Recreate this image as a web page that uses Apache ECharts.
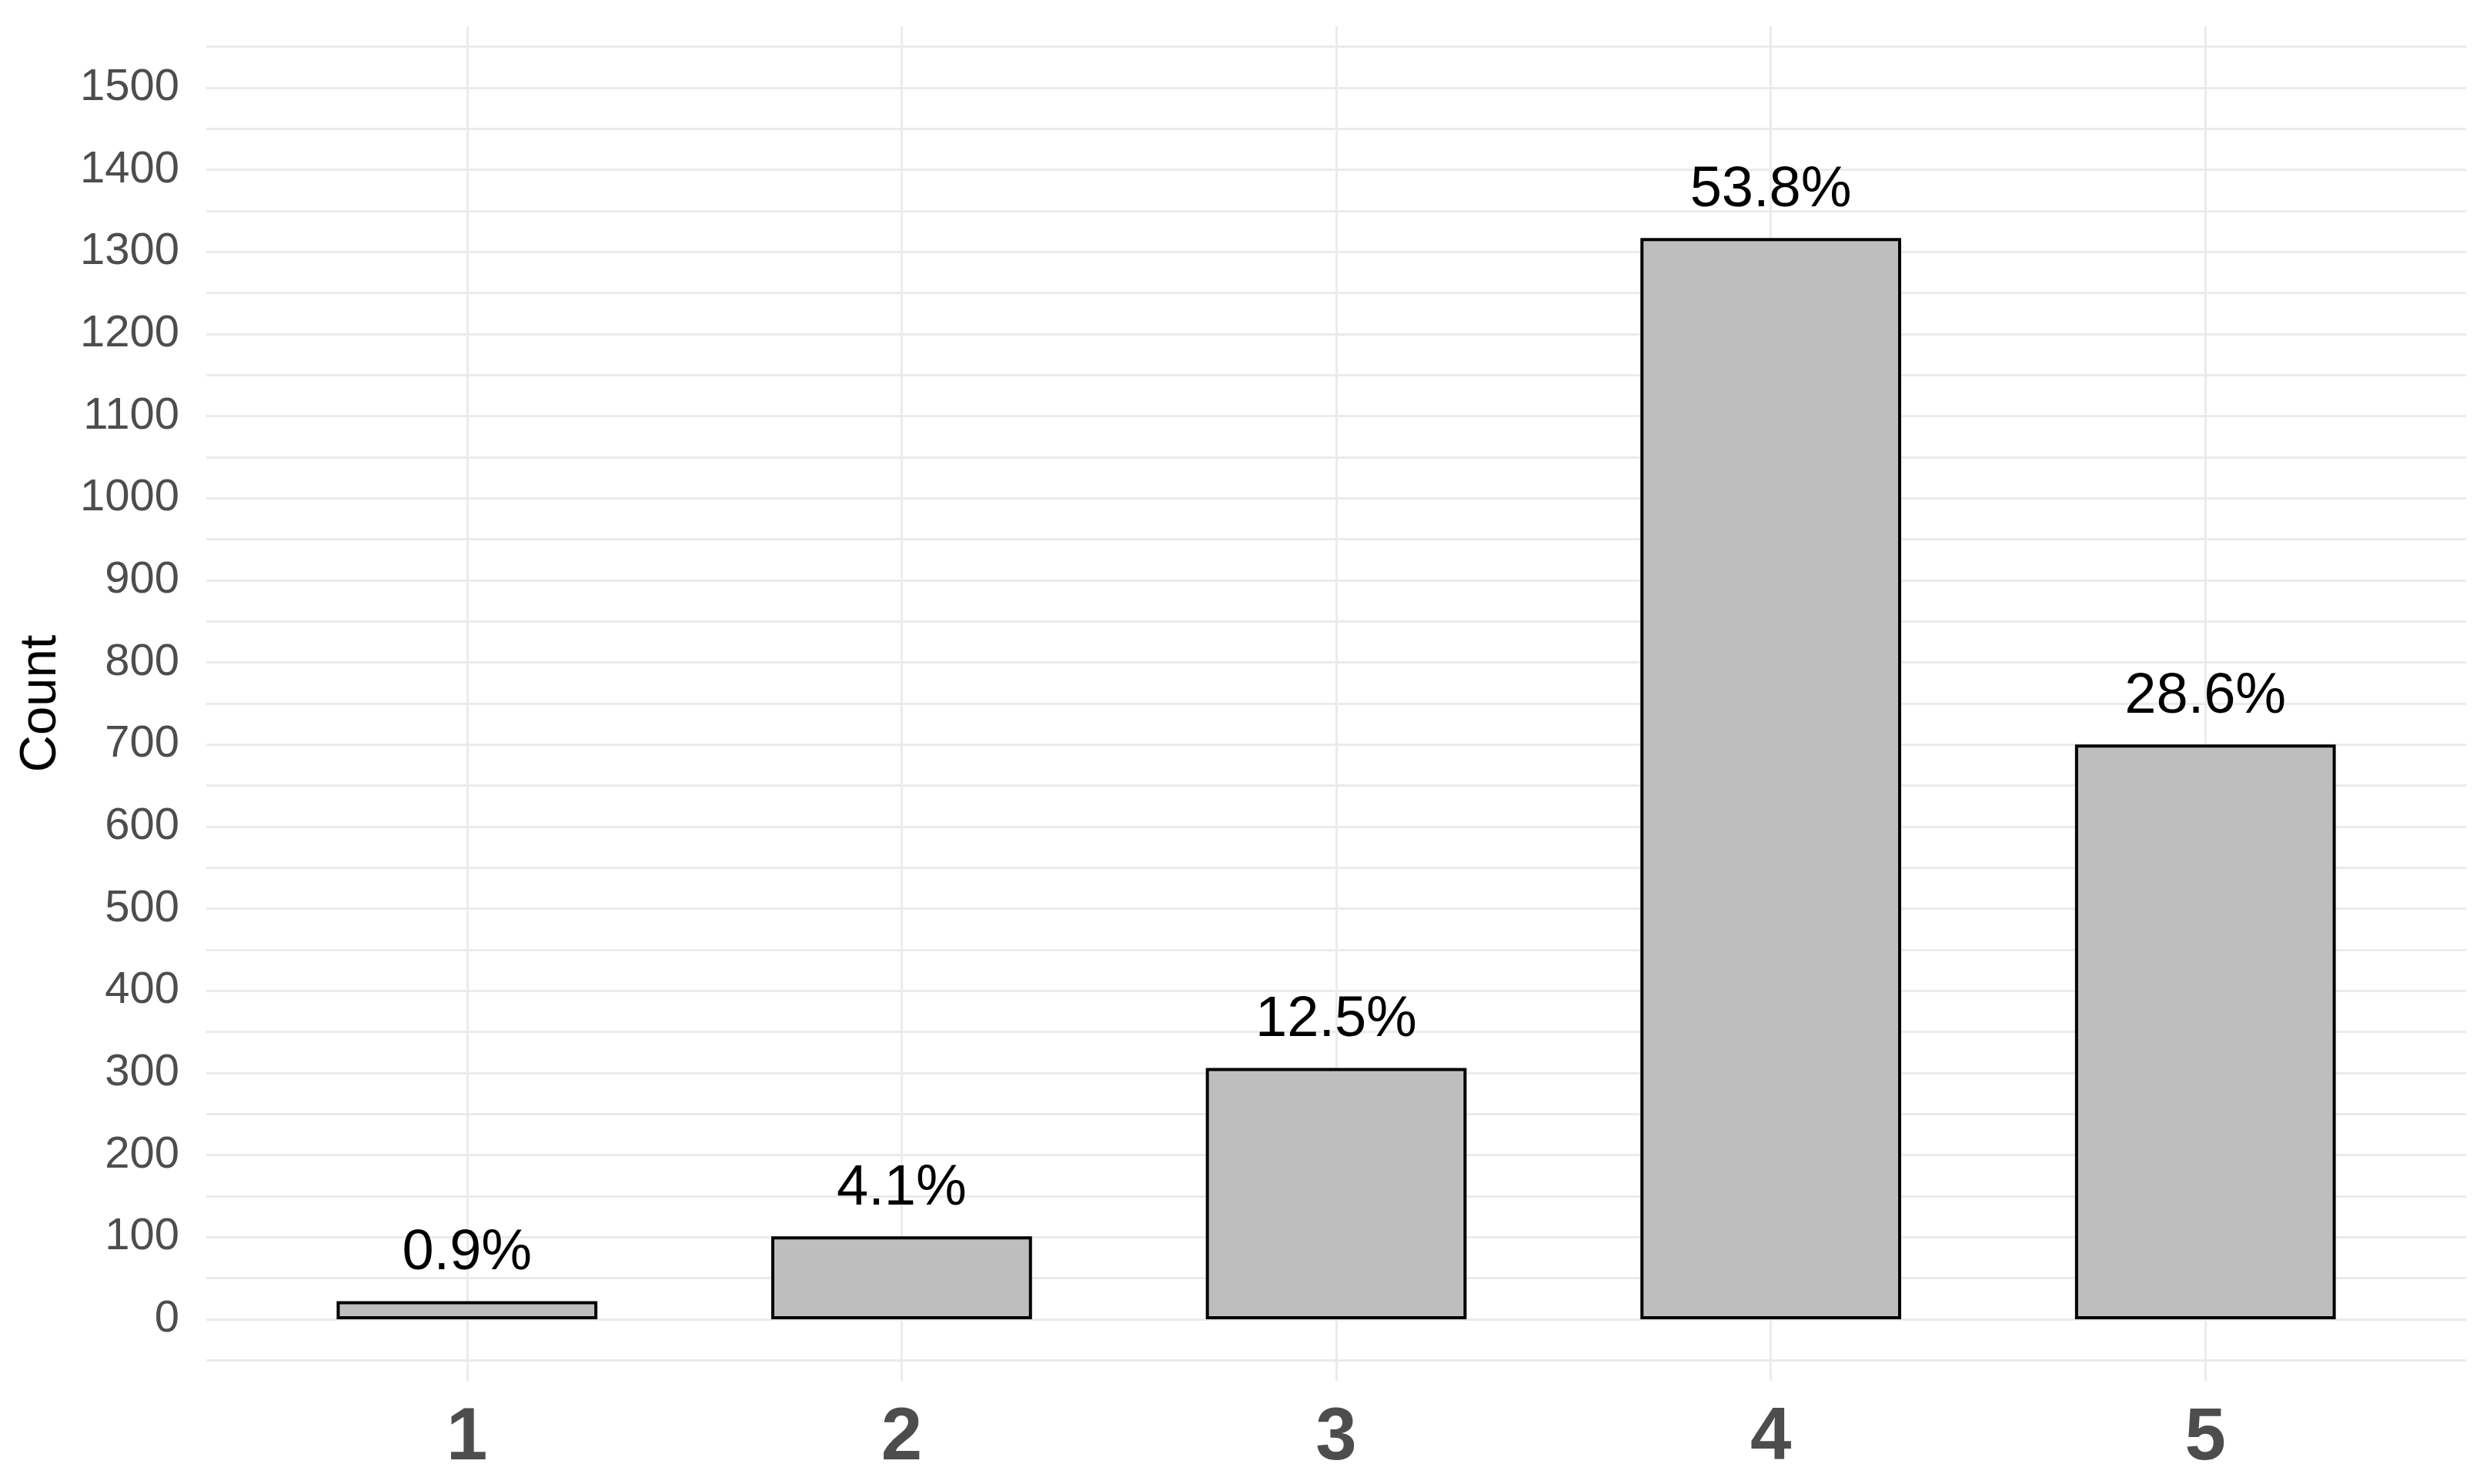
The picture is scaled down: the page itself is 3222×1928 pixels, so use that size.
<!DOCTYPE html>
<html>
<head>
<meta charset="utf-8">
<script src="https://cdn.jsdelivr.net/npm/echarts@6/dist/echarts.min.js"></script>
<style>
  html, body { margin: 0; padding: 0; background: #ffffff; }
  #chart { width: 3222px; height: 1928px; }
</style>
</head>
<body>
<div id="chart"></div>
<script>
// rating categories and counts
const categories = [1, 2, 3, 4, 5];
const counts = [22, 101, 306, 1317, 700];
const percentLabels = ["0.9%", "4.1%", "12.5%", "53.8%", "28.6%"];

// y axis ticks (labels every 100, grid lines every 50)
const yTickLabels = [0, 100, 200, 300, 400, 500, 600, 700, 800, 900, 1000, 1100, 1200, 1300, 1400, 1500];
const yGridValues = [-50, 0, 50, 100, 150, 200, 250, 300, 350, 400, 450, 500, 550, 600, 650, 700, 750,
  800, 850, 900, 950, 1000, 1050, 1100, 1150, 1200, 1250, 1300, 1350, 1400, 1450, 1500, 1550];

const chart = echarts.init(document.getElementById("chart"));

const gridColor = "#ebebeb";
const font = "Liberation Sans, Arial, sans-serif";

const option = {
  animation: false,
  backgroundColor: "#ffffff",
  grid: {
    left: 268,
    right: 18,
    top: 34,
    bottom: 134,
  },
  xAxis: {
    type: "value",
    min: 0.4,
    max: 5.6,
    axisLine: { show: false },
    axisTick: { show: false, customValues: categories },
    axisLabel: {
      customValues: categories,
      formatter: (v) => String(v),
      fontSize: 96,
      fontWeight: "bold",
      color: "#4d4d4d",
      fontFamily: font,
      margin: 28,
    },
    splitLine: {
      show: true,
      lineStyle: { color: gridColor, width: 3 },
    },
  },
  yAxis: {
    type: "value",
    min: -75,
    max: 1575,
    name: "Count",
    nameLocation: "middle",
    nameRotate: 90,
    nameGap: 181,
    nameTextStyle: {
      fontSize: 67,
      color: "#000000",
      fontFamily: font,
    },
    axisLine: { show: false },
    axisTick: { show: false, customValues: yGridValues },
    axisLabel: {
      customValues: yTickLabels,
      formatter: (v) => String(v),
      fontSize: 58,
      color: "#4d4d4d",
      fontFamily: font,
      margin: 35,
    },
    splitLine: {
      show: true,
      lineStyle: { color: gridColor, width: 3 },
    },
  },
  series: [
    {
      type: "bar",
      data: categories.map((c, i) => [c, counts[i]]),
      barWidth: "60%",
      itemStyle: {
        color: "#bebebe",
        borderColor: "#000000",
        borderWidth: 4,
      },
      label: {
        show: true,
        position: "top",
        distance: 25,
        formatter: (p) => percentLabels[p.dataIndex],
        fontSize: 74,
        color: "#000000",
        fontFamily: font,
      },
    },
  ],
};

chart.setOption(option);
</script>
</body>
</html>
